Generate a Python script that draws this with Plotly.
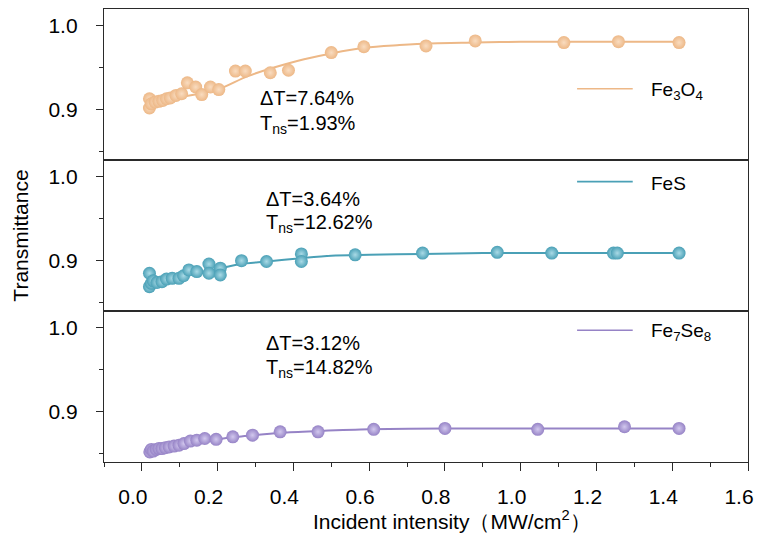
import plotly.graph_objects as go

# ---- measured points (incident intensity in MW/cm^2, transmittance) ----
fe3o4_x = [0.02, 0.02, 0.025, 0.035, 0.045, 0.055, 0.065, 0.075, 0.09, 0.105, 0.12, 0.142,
           0.158, 0.181, 0.203, 0.247, 0.273, 0.339, 0.387, 0.50, 0.586, 0.75, 0.88, 1.114,
           1.258, 1.418]
fe3o4_y = [0.913, 0.902, 0.907, 0.909, 0.910, 0.911, 0.913, 0.914, 0.917, 0.919, 0.932, 0.927,
           0.918, 0.927, 0.924, 0.946, 0.946, 0.944, 0.947, 0.968, 0.975, 0.976, 0.982, 0.980,
           0.981, 0.980]

fes_x = [0.02, 0.02, 0.025, 0.03, 0.04, 0.053, 0.065, 0.08, 0.098, 0.11, 0.124, 0.145,
         0.177, 0.177, 0.207, 0.207, 0.263, 0.329, 0.421, 0.421, 0.563, 0.741, 0.938, 1.082,
         1.245, 1.255, 1.418]
fes_y = [0.885, 0.869, 0.873, 0.876, 0.874, 0.875, 0.878, 0.879, 0.879, 0.882, 0.889, 0.887,
         0.896, 0.885, 0.891, 0.883, 0.900, 0.899, 0.908, 0.899, 0.907, 0.909, 0.910, 0.909,
         0.909, 0.909, 0.909]

fe7se8_x = [0.021, 0.025, 0.03, 0.038, 0.045, 0.053, 0.062, 0.072, 0.085, 0.098, 0.111, 0.128,
            0.145, 0.166, 0.196, 0.24, 0.292, 0.365, 0.465, 0.612, 0.80, 1.045, 1.274, 1.418]
fe7se8_y = [0.852, 0.855, 0.853, 0.855, 0.856, 0.856, 0.857, 0.858, 0.859, 0.860, 0.862, 0.865,
            0.866, 0.868, 0.867, 0.870, 0.872, 0.876, 0.876, 0.879, 0.880, 0.879, 0.882, 0.880]

# ---- fitted saturable-absorption curves ----
fe3o4_fit_x = [0.02, 0.1, 0.2, 0.28, 0.41, 0.5, 0.59, 0.68, 0.76, 0.88, 1.0, 1.2, 1.42]
fe3o4_fit_y = [0.910, 0.915, 0.924, 0.940, 0.958, 0.967, 0.974, 0.977, 0.979, 0.980, 0.981,
               0.981, 0.981]

fes_fit_x = [0.02, 0.06, 0.1, 0.15, 0.2, 0.26, 0.33, 0.42, 0.5, 0.6, 0.74, 0.9, 1.1, 1.42]
fes_fit_y = [0.873, 0.877, 0.881, 0.885, 0.890, 0.896, 0.899, 0.903, 0.906, 0.907, 0.908,
             0.909, 0.909, 0.909]

fe7se8_fit_x = [0.02, 0.06, 0.1, 0.15, 0.2, 0.25, 0.3, 0.37, 0.47, 0.6, 0.8, 1.0, 1.42]
fe7se8_fit_y = [0.853, 0.856, 0.860, 0.864, 0.867, 0.870, 0.872, 0.875, 0.877, 0.879, 0.880,
                0.880, 0.880]

# sample names and fit results
names = ["Fe<sub>3</sub>O<sub>4</sub>", "FeS", "Fe<sub>7</sub>Se<sub>8</sub>"]
delta_t = ["ΔT=7.64%", "ΔT=3.64%", "ΔT=3.12%"]
t_ns = ["T<sub>ns</sub>=1.93%", "T<sub>ns</sub>=12.62%", "T<sub>ns</sub>=14.82%"]

x_ticks = [0.0, 0.2, 0.4, 0.6, 0.8, 1.0, 1.2, 1.4, 1.6]
y_ticks = [0.9, 1.0]

colors = ["#EDB887", "#4AA0B6", "#9683C6"]
centers = ["#F9DCC0", "#A9DAE6", "#D2C8EE"]

FONT = "Liberation Sans, Arial, sans-serif"
AX = "#2a2a2a"

panels = [
    (fe3o4_x, fe3o4_y, fe3o4_fit_x, fe3o4_fit_y),
    (fes_x, fes_y, fes_fit_x, fes_fit_y),
    (fe7se8_x, fe7se8_y, fe7se8_fit_x, fe7se8_fit_y),
]

fig = go.Figure()
for i, (px, py, fx, fy) in enumerate(panels):
    xa = "x" if i == 0 else f"x{i+1}"
    ya = "y" if i == 0 else f"y{i+1}"
    fig.add_trace(go.Scatter(
        x=fx, y=fy, mode="lines", xaxis=xa, yaxis=ya,
        line=dict(color=colors[i], width=2, shape="spline", smoothing=0.8),
        showlegend=False, hoverinfo="skip"))
    fig.add_trace(go.Scatter(
        x=px, y=py, mode="markers", xaxis=xa, yaxis=ya,
        marker=dict(size=13, color=colors[i], line=dict(width=0),
                    gradient=dict(type="radial", color=centers[i])),
        showlegend=False))

# panel geometry (paper fractions, top panel first)
domains = [[2 / 3, 1.0], [1 / 3, 2 / 3], [0.0, 1 / 3]]
layout = dict(
    width=762, height=535,
    margin=dict(l=104, r=10, t=8, b=73),
    paper_bgcolor="white", plot_bgcolor="white",
    font=dict(family=FONT, size=20, color="black"),
    showlegend=False,
)
for i in range(3):
    xk = "xaxis" if i == 0 else f"xaxis{i+1}"
    yk = "yaxis" if i == 0 else f"yaxis{i+1}"
    ya = "y" if i == 0 else f"y{i+1}"
    xa = "x" if i == 0 else f"x{i+1}"
    bottom = (i == 2)
    layout[xk] = dict(
        range=[-0.1, 1.6], anchor=ya, domain=[0, 1],
        showline=True, mirror=True, linecolor=AX, linewidth=1.3,
        showgrid=False, zeroline=False,
        tickvals=x_ticks, ticktext=[f"{v:.1f}" for v in x_ticks],
        ticks="outside" if bottom else "", ticklen=8, tickwidth=1.3, tickcolor=AX,
        showticklabels=bottom,
        tickfont=dict(family=FONT, size=21),
        ticklabelstandoff=8, ticklabelshift=-9,
        minor=dict(dtick=0.1, tick0=0, ticks="outside" if bottom else "",
                   ticklen=4, tickwidth=1.3, tickcolor=AX),
    )
    if not bottom:
        layout[xk]["matches"] = "x3"
    layout[yk] = dict(
        range=[0.84, 1.02], domain=domains[i], anchor=xa,
        showline=True, mirror=True, linecolor=AX, linewidth=1.3,
        showgrid=False, zeroline=False,
        tickvals=y_ticks, ticktext=[f"{v:.1f}" for v in y_ticks],
        ticks="outside", ticklen=7, tickwidth=1.3, tickcolor=AX,
        tickfont=dict(family=FONT, size=21),
        ticklabelstandoff=14,
        minor=dict(tickvals=[0.85, 0.95], ticks="outside", ticklen=4,
                   tickwidth=1.3, tickcolor=AX),
    )

layout["yaxis2"]["title"] = dict(text="Transmittance", font=dict(family=FONT, size=21),
                                 standoff=14)

fig.update_layout(**layout)

# x-axis caption, set slightly right of the plot centre
fig.add_annotation(xref="paper", yref="paper", x=0.541, y=-0.128,
                   text="Incident intensity（MW/cm<sup>2</sup>）", showarrow=False,
                   xanchor="center", yanchor="middle", font=dict(family=FONT, size=21))

# legend keys and annotation text per panel
legend_y = [0.824, 0.619, 0.291]
dt_y = [0.804, 0.5815, 0.262]
tn_y = [0.7445, 0.5264, 0.207]
ann_x = [0.239, 0.2485, 0.2485]
for i in range(3):
    fig.add_shape(type="line", xref="paper", yref="paper",
                  x0=0.7346, x1=0.821, y0=legend_y[i], y1=legend_y[i],
                  line=dict(color=colors[i], width=1.6))
    fig.add_annotation(xref="paper", yref="paper", x=0.847, y=legend_y[i] - 0.004,
                       text=names[i], showarrow=False, xanchor="left",
                       yanchor="middle", font=dict(family=FONT, size=19))
    fig.add_annotation(xref="paper", yref="paper", x=ann_x[i], y=dt_y[i],
                       text=delta_t[i], showarrow=False, xanchor="left", yanchor="middle",
                       font=dict(family=FONT, size=20))
    fig.add_annotation(xref="paper", yref="paper", x=ann_x[i], y=tn_y[i],
                       text=t_ns[i], showarrow=False,
                       xanchor="left", yanchor="middle", font=dict(family=FONT, size=20))

fig.write_html("out.html")
